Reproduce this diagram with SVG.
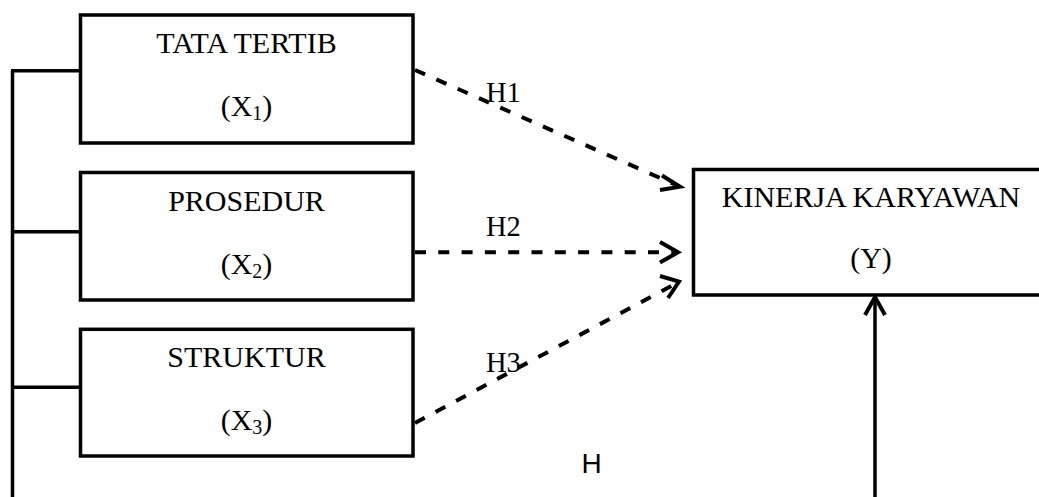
<svg xmlns="http://www.w3.org/2000/svg" width="1039" height="497" viewBox="0 0 1039 497">
<defs>
<style>
.box{fill:#fff;stroke:#000;stroke-width:3.5}
.t{font-family:"Liberation Serif","Times New Roman",serif;font-size:30px;fill:#000;text-anchor:middle}
.lab{font-family:"Liberation Serif","Times New Roman",serif;font-size:28.5px;fill:#000}
.sub{font-size:20px}
.solid{fill:none;stroke:#000;stroke-width:3.5}
.dash{fill:none;stroke:#000;stroke-width:4;stroke-dasharray:11 12.3}
.head{fill:none;stroke:#000;stroke-width:4;stroke-linecap:butt;stroke-linejoin:miter}
</style>
</defs>
<g id="connectors">
<path class="solid" d="M12.5,70.7 V497 M11,70.7 H80 M11,231.7 H80 M11,387.3 H80"/>
<path class="dash" d="M415,70 L676,185"/>
<path class="head" d="M662,175.5 L680,186.7 L660,190"/>
<path class="dash" d="M415,252.3 L674,252.3"/>
<path class="head" d="M660,242 L678,252.3 L660,262.5"/>
<path class="dash" d="M415,423 L675,284"/>
<path class="head" d="M660,276 L679,281.7 L668,298"/>
<path class="solid" d="M875,497 V297"/>
<path class="head" d="M865,315 L875,297 L885,315"/>
<text class="lab" x="486" y="101.7">H1</text>
<text class="lab" x="486" y="236">H2</text>
<text class="lab" x="486" y="371.7">H3</text>
<text x="581.5" y="472.7" style="font-family:'Liberation Sans',Arial,sans-serif;font-size:28px;fill:#000">H</text>
</g>
<g id="x1">
<rect class="box" x="80.5" y="15" width="332.5" height="128"/>
<text class="t" x="246.5" y="53">TATA TERTIB</text>
<text class="t" x="246.5" y="116">(X<tspan class="sub" dy="4">1</tspan><tspan dy="-4">)</tspan></text>
</g>
<g id="x2">
<rect class="box" x="80.5" y="172.5" width="332.5" height="127.5"/>
<text class="t" x="246.5" y="210.5">PROSEDUR</text>
<text class="t" x="246.5" y="273.5">(X<tspan class="sub" dy="4">2</tspan><tspan dy="-4">)</tspan></text>
</g>
<g id="x3">
<rect class="box" x="80.5" y="329.3" width="332.5" height="126.7"/>
<text class="t" x="246.5" y="367">STRUKTUR</text>
<text class="t" x="246.5" y="430">(X<tspan class="sub" dy="4">3</tspan><tspan dy="-4">)</tspan></text>
</g>
<g id="y">
<rect class="box" x="693.5" y="169.5" width="360" height="125.5"/>
<text class="t" x="871" y="206.7">KINERJA KARYAWAN</text>
<text class="t" x="871" y="268">(Y)</text>
</g>
</svg>
